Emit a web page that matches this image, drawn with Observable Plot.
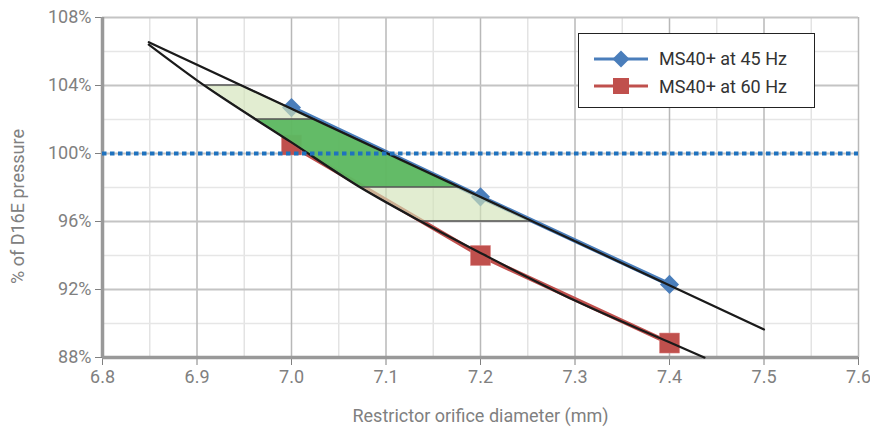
<!DOCTYPE html>
<html><head><meta charset="utf-8">
<script src="https://cdn.jsdelivr.net/npm/d3@7"></script>
<script src="https://cdn.jsdelivr.net/npm/@observablehq/plot@0.6"></script>
<style>
body{margin:0;background:#fff;font-family:Roboto,sans-serif}
#wrap{position:relative;width:870px;height:427px}
.legend{position:absolute;left:578px;top:33px;width:235px;height:73px;border:1.5px solid #222;background:#fff;box-sizing:content-box}
.row{position:absolute;left:14px;height:24px;display:flex;align-items:center}
.row span{font-size:18px;color:#333;margin-left:10px;font-family:Roboto,sans-serif;white-space:nowrap}
</style></head><body><div id="wrap"></div>
<script>
// ---- data ----
const series45Name = "MS40+ at 45 Hz";
const series60Name = "MS40+ at 60 Hz";
const diameters = [7.0, 7.2, 7.4];
const pressure45 = [102.7, 97.45, 92.3];
const pressure60 = [100.5, 94.0, 88.85];

// black trend lines
const trend45X = [6.849, 7.5];
const trend45Y = [106.55, 89.65];
const trend60X = [6.849, 6.9, 7.0, 7.073, 7.137, 7.2, 7.3, 7.4, 7.437];
const trend60Y = [106.4, 104.3, 100.65, 98.0, 96.0, 94.15, 91.35, 88.9, 88.0];

// shaded bands (between the two trend lines)
const outerBandY  = [96, 98, 100.65, 104];
const outerBandX1 = [7.137, 7.073, 7.0, 6.908];
const outerBandX2 = [7.255, 7.178, 7.076, 6.947];
const innerBandY  = [98, 100.65, 102];
const innerBandX1 = [7.073, 7.0, 6.962];
const innerBandX2 = [7.178, 7.076, 7.024];

const referenceLevel = 100;
const xTicks = [6.8, 6.9, 7.0, 7.1, 7.2, 7.3, 7.4, 7.5, 7.6];
const xMinorTicks = [6.85, 6.95, 7.05, 7.15, 7.25, 7.35, 7.45, 7.55];
const yTicks = [88, 92, 96, 100, 104, 108];
const yMinorTicks = [90, 94, 98, 102, 106];
const xTitle = "Restrictor orifice diameter (mm)";
const yTitle = "% of D16E pressure";

// ---- build tables ----
const s45 = diameters.map((d, i) => ({x: d, y: pressure45[i]}));
const s60 = diameters.map((d, i) => ({x: d, y: pressure60[i]}));
const t45 = trend45X.map((x, i) => ({x, y: trend45Y[i]}));
const t60 = trend60X.map((x, i) => ({x, y: trend60Y[i]}));
const outerBand = outerBandY.map((y, i) => ({y, x1: outerBandX1[i], x2: outerBandX2[i]}));
const innerBand = innerBandY.map((y, i) => ({y, x1: innerBandX1[i], x2: innerBandX2[i]}));

const blue = "#4a7ebb", red = "#c0504d";

const chart = Plot.plot({
  width: 870, height: 427,
  marginLeft: 102, marginRight: 12, marginTop: 17, marginBottom: 70,
  style: {fontSize: "18px", fontFamily: "Roboto, sans-serif", color: "#808080", background: "#fff"},
  x: {domain: [6.8, 7.6], ticks: xTicks, tickFormat: d => d.toFixed(1), tickSize: 8, tickPadding: 5, label: null},
  y: {domain: [88, 108], ticks: yTicks, tickFormat: d => d + "%", tickSize: 7, tickPadding: 4, label: null},
  marks: [
    Plot.ruleX(xMinorTicks, {stroke: "#e3e3e3", strokeWidth: 1.5}),
    Plot.ruleY(yMinorTicks, {stroke: "#e6e6e6", strokeWidth: 1.5}),
    Plot.ruleX(xTicks, {stroke: "#b8b8b8", strokeWidth: 1.5}),
    Plot.ruleY(yTicks, {stroke: "#c4c4c4", strokeWidth: 2}),
    Plot.ruleX([6.8], {stroke: "#999", strokeWidth: 3.5}),
    Plot.ruleY([88], {stroke: "#999", strokeWidth: 3.5}),
    Plot.line(s45, {x: "x", y: "y", stroke: blue, strokeWidth: 4.5}),
    Plot.line(s60, {x: "x", y: "y", stroke: red, strokeWidth: 4.5}),
    Plot.dot(s45, {x: "x", y: "y", symbol: "diamond2", r: 8.6, fill: blue, stroke: null}),
    Plot.dot(s60, {x: "x", y: "y", symbol: "square", r: 11.3, fill: red, stroke: "#d88", strokeWidth: 0.5}),
    Plot.areaX(outerBand, {y: "y", x1: "x1", x2: "x2", fill: "#d2e4b8", fillOpacity: 0.65, stroke: "#555", strokeWidth: 1.3}),
    Plot.areaX(innerBand, {y: "y", x1: "x1", x2: "x2", fill: "#55b55b", fillOpacity: 0.9, stroke: "#555", strokeWidth: 1.3}),
    Plot.line(t45, {x: "x", y: "y", stroke: "#1a1a1a", strokeWidth: 2.2}),
    Plot.line(t60, {x: "x", y: "y", stroke: "#1a1a1a", strokeWidth: 2.2, curve: "monotone-x"}),
    Plot.ruleY([referenceLevel], {stroke: "#1f72be", strokeWidth: 4, strokeDasharray: "4.5,3.5"}),
    Plot.text([xTitle], {frameAnchor: "bottom", lineAnchor: "middle", textAnchor: "middle", dy: 59, fill: "#808080", fontSize: 18}),
    Plot.text([yTitle], {frameAnchor: "left", textAnchor: "middle", lineAnchor: "middle", rotate: -90, dx: -84, dy: 19, fill: "#808080", fontSize: 18})
  ]
});
const wrap = document.getElementById("wrap");
wrap.appendChild(chart);

// legend
const legend = document.createElement("div");
legend.className = "legend";
function row(top, name, color, shape) {
  const r = document.createElement("div");
  r.className = "row";
  r.style.top = top + "px";
  const marker = shape === "diamond"
    ? `<polygon points="28,3.5 36.5,12 28,20.5 19.5,12" fill="${color}"/>`
    : `<rect x="20" y="4" width="16" height="16" fill="${color}"/>`;
  r.innerHTML = `<svg width="56" height="24"><line x1="1" x2="55" y1="12" y2="12" stroke="${color}" stroke-width="3"/>${marker}</svg><span>${name}</span>`;
  legend.appendChild(r);
}
row(12.8, series45Name, blue, "diamond");
row(40.2, series60Name, red, "square");
wrap.appendChild(legend);
</script>
</body></html>
